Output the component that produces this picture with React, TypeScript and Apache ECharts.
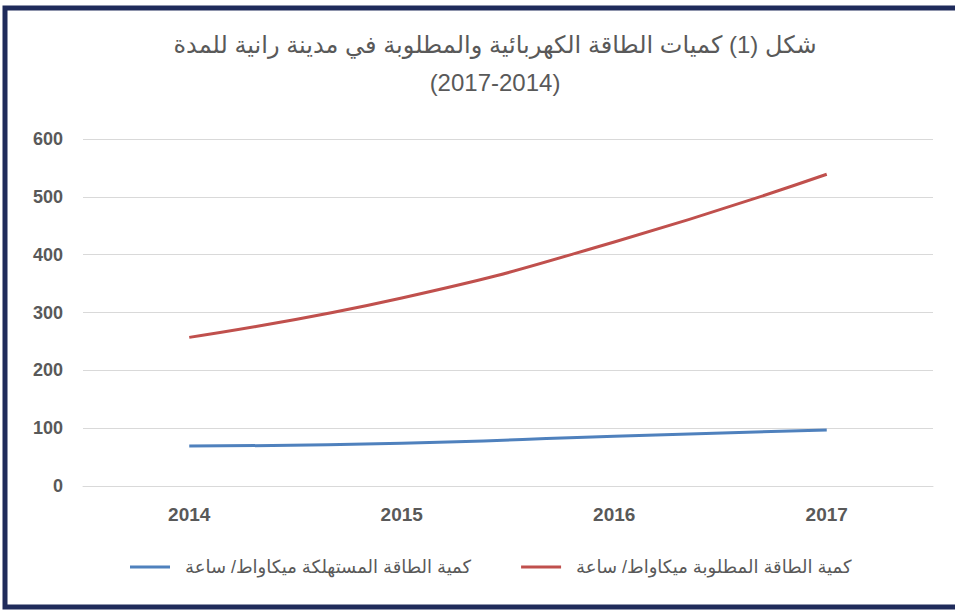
import React, { useEffect, useRef } from "react";
import * as echarts from "echarts";

const years = ["2014", "2015", "2016", "2017"];
const consumed = [69, 74, 86, 97];
const required = [257, 325, 422, 539];
const consumedName = "كمية الطاقة المستهلكة ميكاواط/ ساعة";
const requiredName = "كمية الطاقة المطلوبة ميكاواط/ ساعة";
const titleLine1 = "شكل (1) كميات الطاقة الكهربائية والمطلوبة في مدينة رانية للمدة";
const titleLine2 = "(2017-2014)";

export default function App() {
  const ref = useRef<HTMLDivElement>(null);
  useEffect(() => {
    document.body.style.margin = "0";
    if (!ref.current) return;
    const chart = echarts.init(ref.current, null, { renderer: "svg" });
    chart.setOption({
      animation: false,
      backgroundColor: "#ffffff",
      textStyle: { fontFamily: "Liberation Sans, DejaVu Sans, sans-serif" },
      title: {
        text: titleLine1 + "\n" + titleLine2,
        left: 490,
        textAlign: "center",
        top: 20,
        textStyle: {
          fontSize: 24,
          fontWeight: "normal",
          color: "#595959",
          lineHeight: 38,
        },
      },
      grid: { left: 83, right: 22, top: 139, bottom: 124 },
      xAxis: {
        type: "category",
        data: years,
        boundaryGap: true,
        axisLine: { lineStyle: { color: "#d9d9d9", width: 1 } },
        axisTick: { show: false },
        axisLabel: {
          color: "#595959",
          fontSize: 19,
          fontWeight: "bold",
          margin: 19,
        },
      },
      yAxis: {
        type: "value",
        min: 0,
        max: 600,
        interval: 100,
        axisLine: { show: false },
        axisTick: { show: false },
        splitLine: { lineStyle: { color: "#d9d9d9", width: 1 } },
        axisLabel: {
          color: "#595959",
          fontSize: 18,
          fontWeight: "bold",
          margin: 20,
        },
      },
      legend: {
        bottom: 29,
        left: 125,
        itemWidth: 40,
        itemHeight: 3,
        itemGap: 50,
        icon: "rect",
        textStyle: { color: "#595959", fontSize: 18, padding: [0, 0, 0, 10] },
        data: [consumedName, requiredName],
      },
      series: [
        {
          name: consumedName,
          type: "line",
          data: consumed,
          smooth: true,
          showSymbol: false,
          symbol: "none",
          lineStyle: { color: "#4F81BD", width: 3 },
          itemStyle: { color: "#4F81BD" },
        },
        {
          name: requiredName,
          type: "line",
          data: required,
          smooth: true,
          showSymbol: false,
          symbol: "none",
          lineStyle: { color: "#C0504D", width: 3 },
          itemStyle: { color: "#C0504D" },
        },
      ],
      graphic: [
        {
          type: "rect",
          shape: { x: 5, y: 8, width: 1000, height: 599 },
          style: { fill: "none", stroke: "#1f2b5b", lineWidth: 5 },
          silent: true,
        },
      ],
    });
    return () => chart.dispose();
  }, []);
  return <div ref={ref} style={{ width: 955, height: 610 }} />;
}
